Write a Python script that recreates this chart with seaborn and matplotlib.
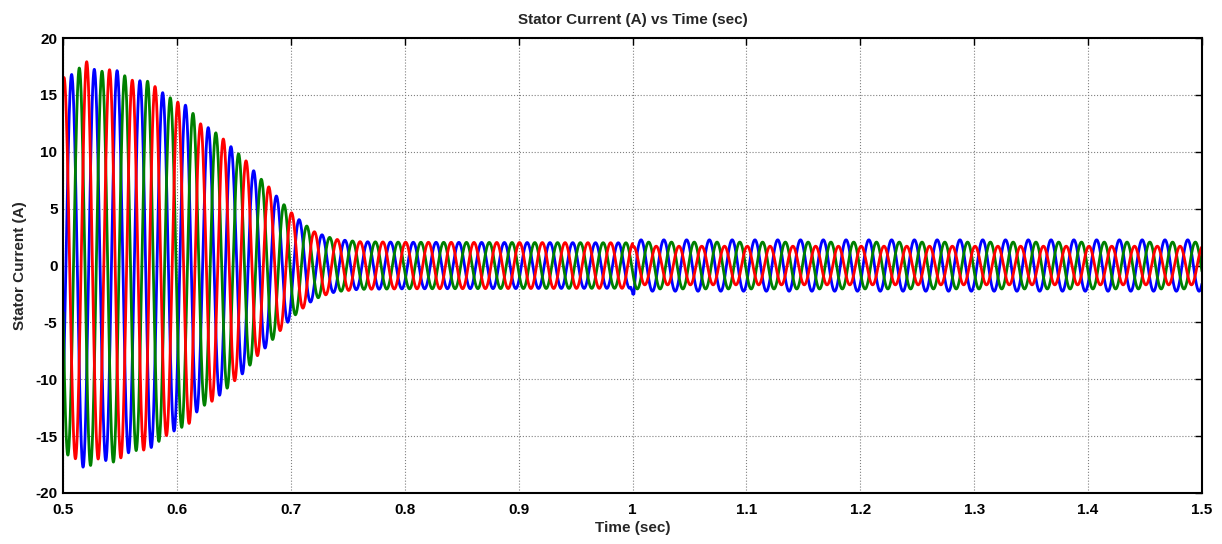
"""Stator current of the three phases, 0.5 s to 1.5 s (MATLAB scope look)."""

import matplotlib
matplotlib.use("Agg")
import matplotlib.pyplot as plt
import numpy as np
import pandas as pd
import seaborn as sns

# values
FREQ_HZ = 50.0
PHASES = ["a", "b", "c"]
PHASE_COLORS = {"a": "#ff0000", "b": "#0000ff", "c": "#008000"}
# time of the first positive peak of each phase (s)
FIRST_PEAK = {"a": 0.5008, "b": 0.5075, "c": 0.5142}

# peak-current envelope (A) at a few instants (s)
ENV_T = [0.50, 0.51, 0.52, 0.53, 0.545, 0.56, 0.575, 0.59, 0.60, 0.61, 0.62,
         0.63, 0.64, 0.65, 0.66, 0.67, 0.68, 0.69, 0.70, 0.71, 0.72, 0.73,
         0.74, 0.76, 0.80, 1.00, 1.50]
ENV_A = [16.5, 16.9, 18.0, 17.0, 17.3, 16.3, 16.2, 15.0, 14.4, 14.0, 12.5,
         12.0, 11.2, 10.2, 9.3, 8.0, 7.0, 5.8, 4.7, 3.8, 3.0, 2.6,
         2.3, 2.1, 2.05, 2.0, 2.0]

# amplitude factor of each phase after the disturbance at t = 1 s
AFTER_T1 = {"a": 0.85, "b": 1.13, "c": 1.03}
# short dip on phase b at t = 1 s
DIP_T = [0.9985, 1.0012, 1.0040]
DIP_A = [0.0, -1.6, 0.0]

T_START, T_END, DT = 0.5, 1.5, 0.0001


def phase_current(ph: str, t: np.ndarray) -> np.ndarray:
    env = np.interp(t, ENV_T, ENV_A)
    env = np.where(t >= 1.0, env * AFTER_T1[ph], env)
    i = env * np.cos(2 * np.pi * FREQ_HZ * (t - FIRST_PEAK[ph]))
    if ph == "b":
        i = i + np.interp(t, DIP_T, DIP_A, left=0.0, right=0.0)
    return i


t = np.arange(T_START, T_END + DT, DT)
df = pd.concat(
    [pd.DataFrame({"time": t, "current": phase_current(ph, t), "phase": ph}) for ph in PHASES],
    ignore_index=True,
)

sns.set_theme(style="white")
plt.rcParams["font.family"] = ["Liberation Sans", "DejaVu Sans"]
plt.rcParams["font.weight"] = "bold"
plt.rcParams["axes.unicode_minus"] = False

fig = plt.figure(figsize=(12.22, 5.44), dpi=100)
ax = fig.add_axes([0.0516, 0.0938, 0.932, 0.8362])

for ph in ["b", "c", "a"]:
    sns.lineplot(data=df[df["phase"] == ph], x="time", y="current", color=PHASE_COLORS[ph],
                 lw=2.0, estimator=None, sort=False, ax=ax, legend=False)

ax.set_xlim(0.5, 1.5)
ax.set_ylim(-20, 20)
ax.set_xticks(np.arange(0.5, 1.51, 0.1))
ax.set_xticklabels(["0.5", "0.6", "0.7", "0.8", "0.9", "1", "1.1", "1.2", "1.3", "1.4", "1.5"])
ax.set_yticks(np.arange(-20, 21, 5))
ax.grid(True, color="#808080", ls=":", lw=0.8)
ax.tick_params(direction="in", length=5, width=1, top=True, right=True, labelsize=11,
               colors="black")
ax.tick_params(axis="x", pad=7)
ax.tick_params(axis="y", pad=4)
for lab in ax.get_xticklabels() + ax.get_yticklabels():
    lab.set_fontweight("bold")
for sp in ax.spines.values():
    sp.set_color("black")
    sp.set_linewidth(1.5)

ax.set_xlabel("Time (sec)", fontsize=11, fontweight="bold", labelpad=3)
ax.set_ylabel("Stator Current (A)", fontsize=11, fontweight="bold", labelpad=6)
ax.set_title("Stator Current (A) vs Time (sec)", fontsize=11, fontweight="bold", pad=10)

fig.savefig("out.png", dpi=100, facecolor="white")
